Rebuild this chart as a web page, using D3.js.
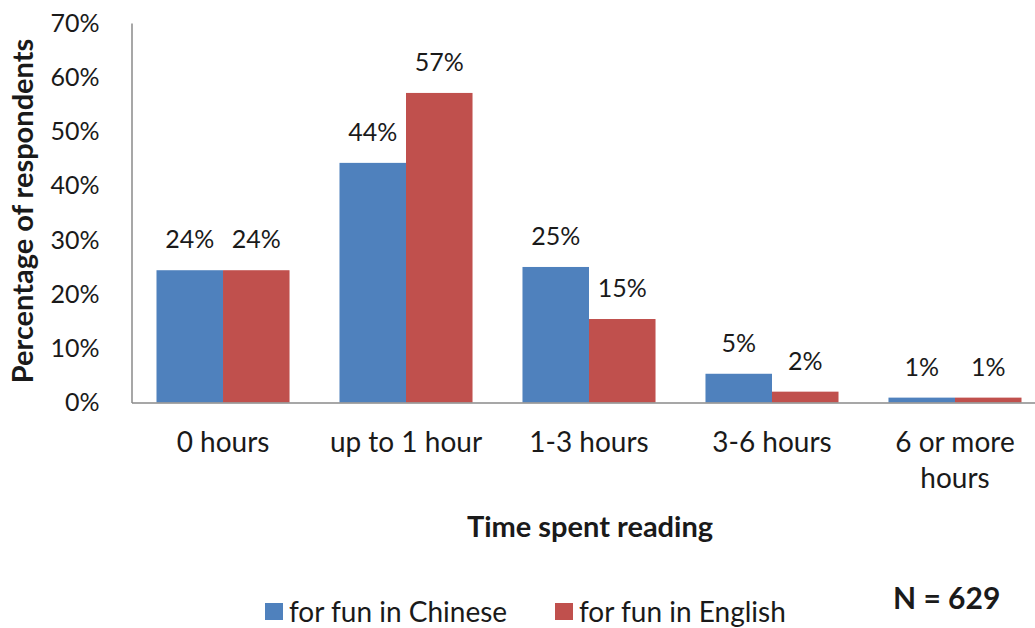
<!DOCTYPE html>
<html>
<head>
<meta charset="utf-8">
<script src="https://cdn.jsdelivr.net/npm/d3@7"></script>
<style>
  html, body { margin: 0; padding: 0; background: #fff; }
  svg { display: block; }
  text { font-family: Lato, "Open Sans", sans-serif; fill: #1a1a1a; }
</style>
</head>
<body>
<svg id="chart" width="1035" height="628"></svg>
<script>
const categories = ["0 hours", "up to 1 hour", "1-3 hours", "3-6 hours", "6 or more hours"];
const categoryLines = [["0 hours"], ["up to 1 hour"], ["1-3 hours"], ["3-6 hours"], ["6 or more", "hours"]];
const seriesNames = ["for fun in Chinese", "for fun in English"];
const chineseValues = [0.244, 0.442, 0.25, 0.053, 0.009];
const englishValues = [0.244, 0.571, 0.154, 0.02, 0.009];
const yTicks = [0, 0.1, 0.2, 0.3, 0.4, 0.5, 0.6, 0.7];
const seriesColors = ["#4F81BD", "#C0504D"];
const yTitle = "Percentage of respondents";
const xTitle = "Time spent reading";
const noteText = "N = 629";

(function () {
const svg = d3.select("#chart");
const plotLeft = 131.5, plotRight = 1046.5, plotTop = 23, plotBottom = 402.5;

const x = d3.scaleBand().domain(categories).range([plotLeft, plotRight])
  .paddingInner(0.273).paddingOuter(0.1366);
const xs = d3.scaleBand().domain(seriesNames).range([0, x.bandwidth()]);
const y = d3.scaleLinear().domain([0, 0.7]).range([plotBottom, plotTop]);
const fmt = d3.format(".0%");

const rows = categories.map((c, i) => ({cat: c, vals: [chineseValues[i], englishValues[i]]}));

// bars
const g = svg.append("g");
const groups = g.selectAll("g.grp").data(rows).join("g")
  .attr("transform", d => `translate(${x(d.cat)},0)`);
groups.selectAll("rect").data(d => d.vals.map((v, k) => ({v, k})))
  .join("rect")
  .attr("x", d => xs(seriesNames[d.k]))
  .attr("width", xs.bandwidth())
  .attr("y", d => y(d.v))
  .attr("height", d => y(0) - y(d.v))
  .attr("fill", d => seriesColors[d.k]);
groups.selectAll("text").data(d => d.vals.map((v, k) => ({v, k})))
  .join("text")
  .attr("x", d => xs(seriesNames[d.k]) + xs.bandwidth() / 2)
  .attr("y", d => y(d.v) - 22)
  .attr("text-anchor", "middle")
  .attr("font-size", 25)
  .text(d => fmt(d.v));

// y axis
const yAxis = d3.axisLeft(y).tickValues(yTicks).tickFormat(fmt).tickSize(0).tickPadding(32);
const ya = svg.append("g").attr("transform", `translate(${plotLeft},0)`).call(yAxis);
ya.select(".domain").attr("stroke", "#8a8a8a").attr("stroke-width", 1.5);
ya.selectAll("text").attr("font-size", 25).attr("font-family", "Lato").attr("fill", "#1a1a1a")
  .attr("dy", "0.33em");

// x axis
const xAxis = d3.axisBottom(x).tickSize(0).tickFormat("");
const xa = svg.append("g").attr("transform", `translate(0,${plotBottom})`).call(xAxis);
xa.select(".domain").attr("stroke", "#8a8a8a").attr("stroke-width", 1.5);
categories.forEach((c, i) => {
  const t = svg.append("text")
    .attr("x", x(c) + x.bandwidth() / 2)
    .attr("y", 452)
    .attr("text-anchor", "middle")
    .attr("font-size", 28);
  categoryLines[i].forEach((line, j) => {
    t.append("tspan").attr("x", x(c) + x.bandwidth() / 2).attr("dy", j === 0 ? 0 : 36).text(line);
  });
});

// axis titles
svg.append("text")
  .attr("transform", `translate(33,211) rotate(-90)`)
  .attr("text-anchor", "middle")
  .attr("font-size", 29).attr("font-weight", "bold")
  .text(yTitle);
svg.append("text")
  .attr("x", 590).attr("y", 537)
  .attr("text-anchor", "middle")
  .attr("font-size", 29).attr("font-weight", "bold")
  .text(xTitle);

// legend
const legendX = [265, 555];
seriesNames.forEach((s, k) => {
  svg.append("rect").attr("x", legendX[k]).attr("y", 603).attr("width", 18).attr("height", 17)
    .attr("fill", seriesColors[k]);
  svg.append("text").attr("x", legendX[k] + 24).attr("y", 622)
    .attr("font-size", 28).text(s);
});

svg.append("text").attr("x", 893).attr("y", 609)
  .attr("font-size", 30).attr("font-weight", "bold").text(noteText);
})();
</script>
</body>
</html>
